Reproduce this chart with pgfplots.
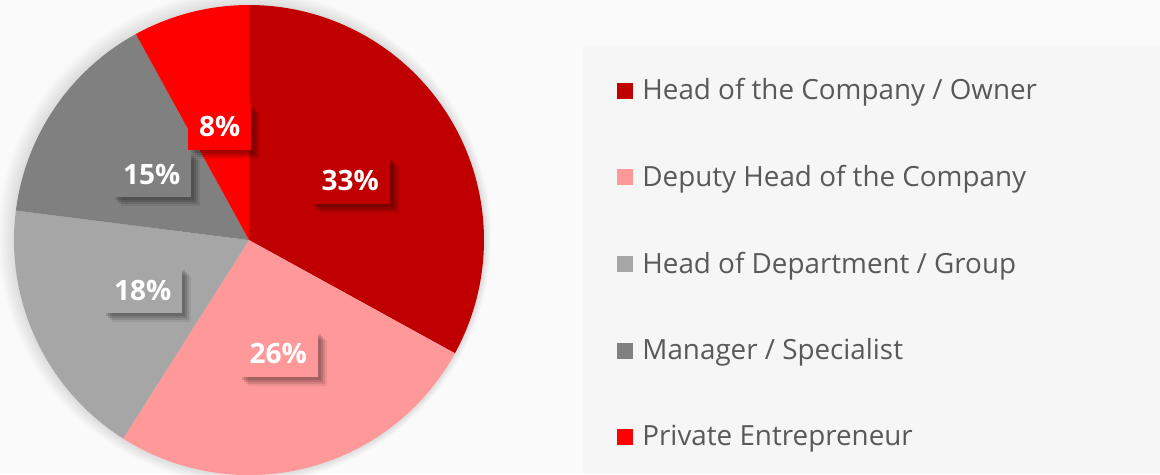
\documentclass[border=0pt]{standalone}
\usepackage{pgfplots}
\pgfplotsset{compat=1.18}
\usepackage{fontspec}
\setmainfont{Open Sans}
\usetikzlibrary{shadows}

\definecolor{cOwner}{HTML}{C00000}
\definecolor{cDeputy}{HTML}{FF9999}
\definecolor{cDept}{HTML}{A6A6A6}
\definecolor{cManager}{HTML}{808080}
\definecolor{cPrivate}{HTML}{FF0000}
\definecolor{bgcol}{HTML}{FAFAFA}
\definecolor{legbg}{HTML}{F6F6F6}
\definecolor{txtgray}{HTML}{595959}

% pie centre and radius in pixel units of the reference
\def\cx{249}
\def\cy{234}
\def\R{235}

% wedge from cumulative share #1 to #2 (percent), clockwise from 12 o'clock
\newcommand{\pieslice}[3]{%
  \addplot[fill=#3, draw=none, domain={90-3.6*#2}:{90-3.6*#1}, samples=90]
    ({\cx+\R*cos(x)}, {\cy+\R*sin(x)}) -- (axis cs:\cx,\cy) -- cycle;
}
\newcommand{\slicelabel}[3]{%
  \pgfmathsetmacro\midang{90-1.8*(#1+#2)}%
  \pgfmathsetmacro\lx{\cx+0.5*\R*cos(\midang)}%
  \pgfmathsetmacro\ly{\cy+0.5*\R*sin(\midang)}%
  \pgfmathsetmacro\val{int(round(#2-#1))}%
  \edef\temp{\noexpand\node[lab, fill=#3] at (axis cs:\lx,\ly) {\val\noexpand\%};}%
  \temp
}

\begin{document}
\begin{tikzpicture}[
  lab/.style={text=white, font=\fontsize{14}{16}\selectfont\bfseries,
    inner xsep=5.5pt, inner ysep=6.5pt,
    drop shadow={shadow xshift=1.5pt, shadow yshift=-1.5pt, opacity=0.12, fill=black},
    drop shadow={shadow xshift=2.5pt, shadow yshift=-2.5pt, opacity=0.12, fill=black},
    drop shadow={shadow xshift=3.5pt, shadow yshift=-3.5pt, opacity=0.1, fill=black},
    drop shadow={shadow xshift=4.5pt, shadow yshift=-4.5pt, opacity=0.07, fill=black}},
]
\begin{axis}[
  scale only axis,
  width=580pt, height=237pt,
  xmin=0, xmax=1160, ymin=0, ymax=474,
  hide axis,
  legend cell align=left,
  legend image code/.code={\fill[#1] (0pt,-4pt) rectangle (8pt,4pt); \path (10.5pt,0pt);},
  legend style={
    at={(axis cs:617,400)}, anchor=north west,
    draw=none, fill=none, inner sep=0pt,
    font=\fontsize{13.9}{16}\selectfont, text=txtgray,
    row sep=27.2pt,
  },
]
\fill[bgcol] (axis cs:0,0) rectangle (axis cs:1160,474);
\fill[legbg] (axis cs:583,0) rectangle (axis cs:1160,429);
\pgfplotsinvokeforeach{1,...,7}{
  \fill[black, opacity=0.016] (axis cs:\cx-0.6*#1,\cy+0.4*#1) circle[radius=\R+1.6*#1];
}

% cumulative shares: 0, 33, 59, 77, 92, 100
\pieslice{0}{33}{cOwner}
\addlegendentry{Head of the Company / Owner}
\pieslice{33}{59}{cDeputy}
\addlegendentry{Deputy Head of the Company}
\pieslice{59}{77}{cDept}
\addlegendentry{Head of Department / Group}
\pieslice{77}{92}{cManager}
\addlegendentry{Manager / Specialist}
\pieslice{92}{100}{cPrivate}
\addlegendentry{Private Entrepreneur}

\slicelabel{0}{33}{cOwner}
\slicelabel{33}{59}{cDeputy}
\slicelabel{59}{77}{cDept}
\slicelabel{77}{92}{cManager}
\slicelabel{92}{100}{cPrivate}
\end{axis}
\end{tikzpicture}
\end{document}
